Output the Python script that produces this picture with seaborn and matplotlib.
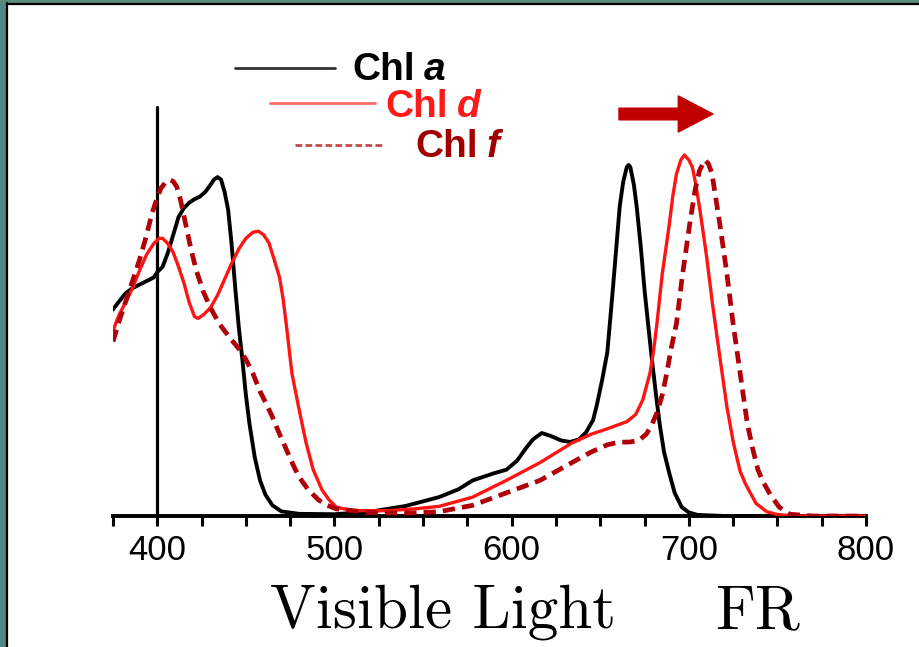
import numpy as np
import pandas as pd
import matplotlib
matplotlib.use("Agg")
import matplotlib.pyplot as plt
import seaborn as sns
from matplotlib.lines import Line2D
from matplotlib.patches import Rectangle
from matplotlib.ticker import MultipleLocator

# ---------------- data ----------------
chl_a_nm = [375, 378, 382, 386, 390, 394, 398, 400, 403, 406, 409, 412, 415, 418, 421, 424, 427, 430,
            432, 434, 436, 438, 440, 442, 444, 446, 448, 450, 452, 455, 458, 461, 465, 470, 480, 500,
            520, 540, 559, 570, 578, 590, 597, 603, 608, 612, 617, 622, 628, 633, 638, 642, 646, 648,
            651, 654, 657, 659, 661, 663, 665, 666, 667, 669, 670.6, 673, 675, 677, 679, 681.5, 683.5,
            686, 689, 692, 696, 700, 705, 720, 800]
chl_a_abs = [0.58, 0.60, 0.625, 0.64, 0.65, 0.66, 0.67, 0.685, 0.70, 0.74, 0.79, 0.84, 0.865, 0.88,
             0.89, 0.897, 0.91, 0.93, 0.945, 0.952, 0.945, 0.91, 0.86, 0.76, 0.64, 0.53, 0.44, 0.34,
             0.26, 0.165, 0.10, 0.06, 0.03, 0.013, 0.006, 0.005, 0.012, 0.028, 0.053, 0.075, 0.10,
             0.12, 0.13, 0.155, 0.19, 0.215, 0.233, 0.225, 0.212, 0.208, 0.215, 0.235, 0.27, 0.31,
             0.38, 0.46, 0.63, 0.75, 0.87, 0.94, 0.98, 0.986, 0.98, 0.93, 0.868, 0.75, 0.635, 0.54,
             0.447, 0.34, 0.26, 0.18, 0.12, 0.065, 0.025, 0.01, 0.003, 0.0, 0.0]

chl_d_nm = [375, 378, 382, 386, 390, 394, 398, 401, 403, 406, 409, 412, 415, 418, 421, 423, 426, 430,
            434, 438, 442, 446, 450, 454, 457, 460, 463, 466, 469, 471, 473, 476, 480, 484, 488, 493,
            497, 501, 510, 530, 545, 559, 578, 597, 616, 634, 645, 654, 665, 670, 674, 678, 680, 682,
            685, 687, 689, 691, 693, 695.5, 697.5, 700, 702, 704, 706, 708, 710, 713.5, 717.5, 721.5,
            725, 727, 729, 732, 735, 738, 744, 750, 760, 800]
chl_d_abs = [0.52, 0.56, 0.60, 0.64, 0.69, 0.735, 0.765, 0.78, 0.78, 0.765, 0.74, 0.70, 0.655, 0.60,
             0.56, 0.555, 0.565, 0.585, 0.62, 0.665, 0.71, 0.75, 0.78, 0.797, 0.80, 0.79, 0.767, 0.72,
             0.67, 0.61, 0.53, 0.40, 0.30, 0.205, 0.13, 0.073, 0.045, 0.025, 0.015, 0.015, 0.02, 0.027,
             0.053, 0.10, 0.15, 0.205, 0.23, 0.245, 0.265, 0.285, 0.326, 0.40, 0.46, 0.54, 0.68, 0.75,
             0.82, 0.90, 0.96, 1.0, 1.014, 1.0, 0.98, 0.93, 0.868, 0.80, 0.73, 0.59, 0.447, 0.306,
             0.21, 0.166, 0.125, 0.09, 0.062, 0.035, 0.012, 0.004, 0.0, 0.0]

chl_f_nm = [375, 378, 382, 386, 390, 394, 397, 400, 402, 405, 407, 409, 411, 413, 416, 419, 422, 426,
            430, 435, 441, 446, 450, 454, 458, 462, 465, 469, 473, 477, 480, 485, 491, 496, 501, 520,
            540, 559, 578, 597, 616, 634, 645, 654, 660, 667, 672, 676, 679, 682, 685, 687.5, 690, 693,
            696.5, 700.5, 703.5, 706, 709, 711, 713, 715, 717.5, 721.5, 725, 729, 733, 736, 739, 742,
            746, 751, 757, 770, 800]
chl_f_abs = [0.49, 0.54, 0.60, 0.66, 0.72, 0.79, 0.85, 0.895, 0.92, 0.94, 0.944, 0.94, 0.925, 0.89,
             0.82, 0.75, 0.69, 0.63, 0.585, 0.54, 0.50, 0.47, 0.44, 0.40, 0.35, 0.31, 0.278, 0.23,
             0.185, 0.14, 0.11, 0.075, 0.045, 0.03, 0.02, 0.01, 0.008, 0.012, 0.03, 0.065, 0.10, 0.15,
             0.18, 0.20, 0.207, 0.208, 0.213, 0.23, 0.255, 0.29, 0.34, 0.40, 0.47, 0.54, 0.68, 0.82,
             0.915, 0.97, 1.0, 0.99, 0.963, 0.90, 0.82, 0.68, 0.54, 0.40, 0.26, 0.19, 0.13, 0.095,
             0.06, 0.025, 0.005, 0.0, 0.0]

series_names = ["Chl a", "Chl d", "Chl f"]
x_major_ticks = [400, 500, 600, 700, 800]
x_range = (375, 800)
marker_line_nm = 400
caption_left = "Visible Light"
caption_right = "FR"

# ---------------- style ----------------
sns.set_style("white")
plt.rcParams["font.family"] = ["Liberation Sans Narrow", "Liberation Sans", "DejaVu Sans"]

W, H = 920, 647
fig = plt.figure(figsize=(W / 100, H / 100), dpi=100)
fig.patch.set_facecolor("white")

def fx(px):
    return px / W

def fy(py):
    return 1 - py / H

ax = fig.add_axes([fx(113), fy(516), fx(866) - fx(113), fy(60) - fy(516)])
ax.set_facecolor("none")

df = pd.concat([
    pd.DataFrame({"nm": chl_a_nm, "A": chl_a_abs, "pigment": "Chl a"}),
    pd.DataFrame({"nm": chl_d_nm, "A": chl_d_abs, "pigment": "Chl d"}),
    pd.DataFrame({"nm": chl_f_nm, "A": chl_f_abs, "pigment": "Chl f"}),
])

styles = {
    "Chl a": dict(color="black", lw=2.8, ls="-"),
    "Chl d": dict(color="#ff1414", lw=2.4, ls="-"),
    "Chl f": dict(color="#b00008", lw=3.4, ls=(0, (2.6, 1.5))),
}
for name in series_names:
    st = styles[name]
    sub = df[df["pigment"] == name]
    sns.lineplot(data=sub, x="nm", y="A", ax=ax, color=st["color"], linewidth=st["lw"],
                 sort=False, estimator=None, legend=False, zorder=3)
    ax.lines[-1].set_linestyle(st["ls"])
    ax.lines[-1].set_solid_joinstyle("round")

ax.set_xlim(*x_range)
ymax = (516 - 60) / 356
ax.set_ylim(0, ymax)
ax.axvline(marker_line_nm, ymin=0, ymax=(516 - 107) / (516 - 60), color="black", lw=2.3, zorder=2)

for s in ["left", "top", "right"]:
    ax.spines[s].set_visible(False)
ax.spines["bottom"].set_linewidth(2.8)
ax.spines["bottom"].set_color("black")
ax.spines["bottom"].set_zorder(2.5)

ax.set_xticks(x_major_ticks)
ax.set_xticklabels([str(t) for t in x_major_ticks])
ax.xaxis.set_minor_locator(MultipleLocator(25))
ax.tick_params(axis="x", which="both", direction="out", length=7, width=2.2, color="black",
               bottom=True, labelsize=25, pad=6, labelcolor="black")
ax.set_yticks([])
ax.set_xlabel("")
ax.set_ylabel("")

# legend (staggered, as in the reference)
leg = [
    ("Chl", "a", "black", "#333333", "-", 235, 335, 68, 352, 80),
    ("Chl", "d", "#ff1a1a", "#ff6a6a", "-", 270, 375, 103, 385, 117),
    ("Chl", "f", "#a00000", "#c44a4a", (0, (2.4, 1.2)), 295, 385, 145, 415, 157),
]
fig.canvas.draw()
renderer = fig.canvas.get_renderer()
for word, letter, tcol, lcol, lls, x0, x1, ly, tx, by in leg:
    fig.add_artist(Line2D([fx(x0), fx(x1)], [fy(ly), fy(ly)], transform=fig.transFigure,
                          color=lcol, lw=2.0, ls=lls))
    t = fig.text(fx(tx), fy(by), word, color=tcol, fontsize=28, fontweight="bold",
                 family=["Liberation Sans", "DejaVu Sans"], ha="left", va="baseline")
    bb = t.get_window_extent(renderer)
    fig.text(fx(bb.x1 + 9), fy(by), letter, color=tcol, fontsize=28, fontweight="bold",
             style="italic", family=["Liberation Sans", "DejaVu Sans"], ha="left", va="baseline")

# red-shift arrow
ax.annotate("", xy=(fx(713), fy(114)), xycoords="figure fraction",
            xytext=(fx(619), fy(114)), textcoords="figure fraction",
            arrowprops=dict(arrowstyle="simple,head_length=2.5,head_width=2.6,tail_width=0.84",
                            mutation_scale=10, color="#c00000", shrinkA=0, shrinkB=0))

# captions
fig.text(fx(270), fy(628), caption_left, fontsize=44, family=["cmr10", "DejaVu Serif"],
         ha="left", va="baseline", color="black")
fig.text(fx(715), fy(628), caption_right, fontsize=44, family=["cmr10", "DejaVu Serif"],
         ha="left", va="baseline", color="black")

# slide frame
fig.add_artist(Rectangle((0, 0), fx(6), 1, transform=fig.transFigure, color="#4f8884", zorder=0))
fig.add_artist(Rectangle((0, fy(2.5)), 1, 2.5 / H, transform=fig.transFigure, color="#5a8a78", zorder=0))
fig.add_artist(Line2D([fx(7), fx(7)], [0, fy(3)], transform=fig.transFigure, color="black", lw=1.6))
fig.add_artist(Line2D([fx(7), 1], [fy(3.5), fy(3.5)], transform=fig.transFigure, color="black", lw=1.6))

fig.savefig("out.png", dpi=100, facecolor="white")
